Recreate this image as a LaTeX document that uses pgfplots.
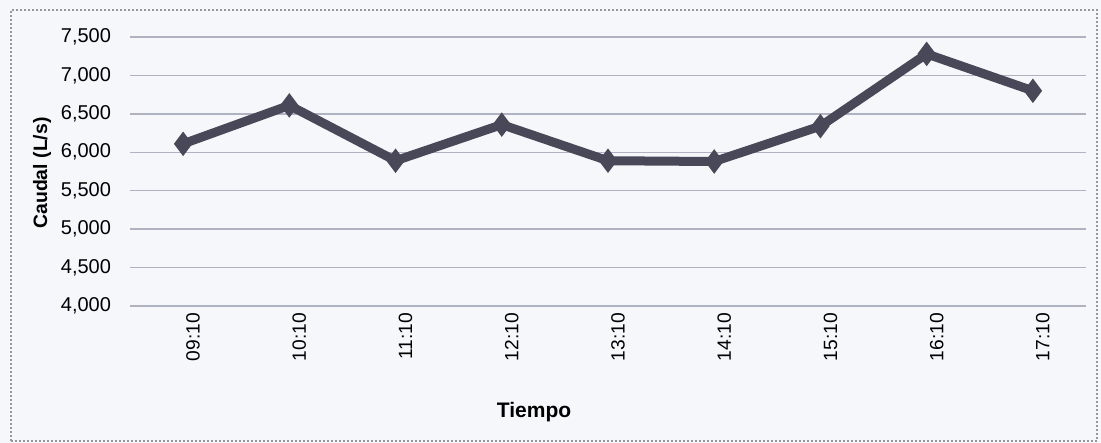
\documentclass[border=0pt]{standalone}
\usepackage{pgfplots}
\pgfplotsset{compat=1.18}
\usepackage{fontspec}
\setmainfont{Liberation Sans}
\definecolor{gridc}{RGB}{175,178,192}
\definecolor{linec}{RGB}{72,72,88}
\definecolor{bgc}{RGB}{246,247,250}
\definecolor{framec}{RGB}{150,150,155}
\begin{document}
\begin{tikzpicture}[x=0.5pt,y=0.5pt]
\path[use as bounding box, fill=bgc] (0,0) rectangle (1101,443);
\draw[framec, line width=1pt, densely dotted] (11,2) rectangle (1097,433);
\begin{axis}[
  at={(65pt,68.5pt)}, anchor=south west,
  scale only axis, width=478pt, height=134.5pt,
  xmin=-0.5, xmax=8.5, ymin=4000, ymax=7500,
  ytick={4000,4500,...,7500},
  xtick=data,
  xticklabels={09:10,10:10,11:10,12:10,13:10,14:10,15:10,16:10,17:10},
  xticklabel style={rotate=90, anchor=east, font=\fontsize{9.6}{10}\selectfont, yshift=-5pt},
  yticklabel style={font=\fontsize{10}{11}\selectfont, xshift=-6pt},
  /pgf/number format/.cd, 1000 sep={,}, assume math mode=true, /pgfplots/.cd,
  axis line style={draw=none},
  tick style={draw=none},
  ymajorgrids, grid style={gridc, line width=0.7pt},
  clip=false,
]
\addplot[linec, line width=4.5pt, line join=miter, mark=diamond*, mark size=2.4pt, mark options={linec}] coordinates {
(0,6110) (1,6610) (2,5890) (3,6360) (4,5890) (5,5880) (6,6340) (7,7280) (8,6800)
};
\end{axis}
\node[font=\bfseries\fontsize{10.5}{12}\selectfont] at (534,31) {Tiempo};
\node[font=\bfseries\fontsize{9.7}{11}\selectfont, rotate=90] at (42,270) {Caudal (L/s)};
\end{tikzpicture}
\end{document}
